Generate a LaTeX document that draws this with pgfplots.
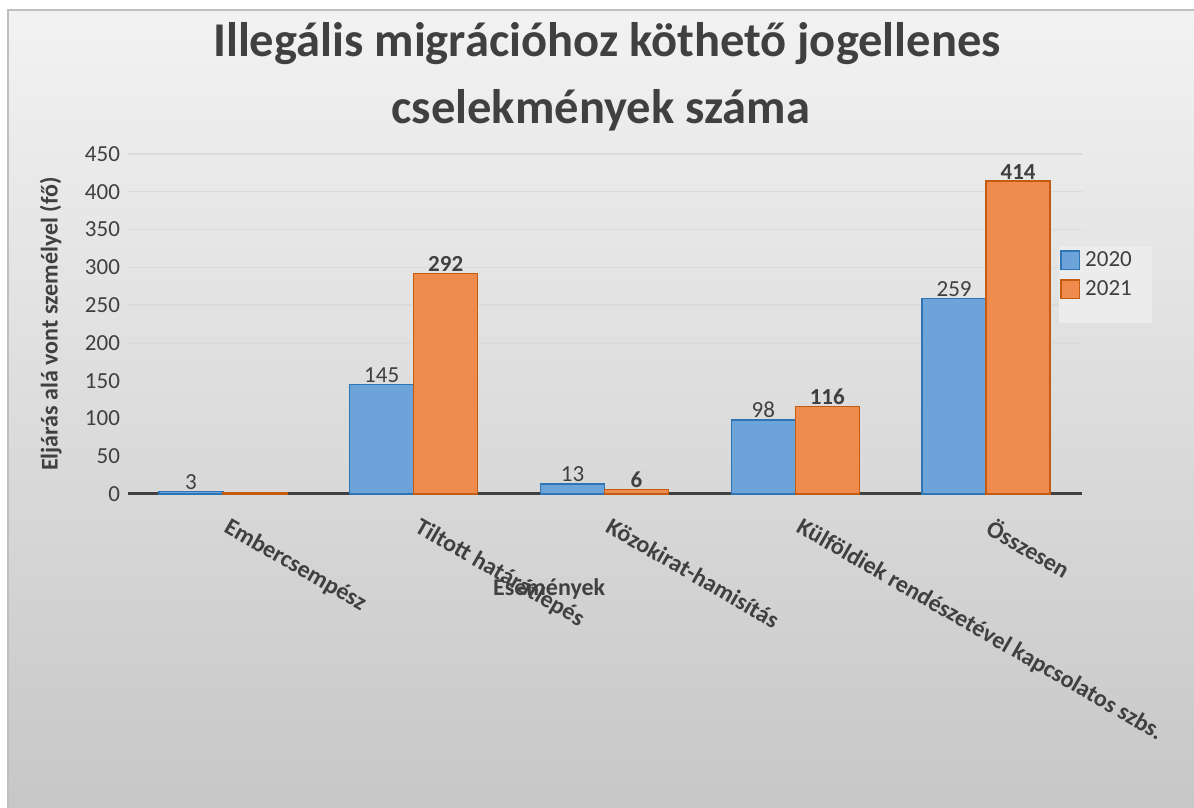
\documentclass[border=0pt]{standalone}
\usepackage{fontspec}
\setmainfont{Carlito}
\usepackage{pgfplots}
\pgfplotsset{compat=1.18}

\definecolor{txt}{RGB}{64,64,64}
\definecolor{bluefill}{RGB}{108,163,217}
\definecolor{blueedge}{RGB}{46,117,182}
\definecolor{orfill}{RGB}{238,139,77}
\definecolor{oredge}{RGB}{197,90,17}
\definecolor{legbg}{RGB}{236,236,236}

\newcommand{\fs}{\fontsize{23}{27}\selectfont}
\newcommand{\fb}{\fontsize{24}{28}\selectfont\bfseries}

\begin{document}
\begin{tikzpicture}[x=1pt,y=1pt]
\path[use as bounding box, fill=white] (0,0) rectangle (1194,808);
\shade[top color=black!5, bottom color=black!22] (8,0) rectangle (1194,798);
\draw[black!25, line width=1.5pt] (8,0) -- (8,798) -- (1194,798);

% title
\node[anchor=base, text=txt, font=\fontsize{48.5}{58}\selectfont\bfseries] at (607,751) {Illegális migrációhoz köthető jogellenes};
\node[anchor=base, text=txt, font=\fontsize{48.5}{58}\selectfont\bfseries] at (601,684) {cselekmények száma};

\begin{axis}[
    at={(127.5pt,314pt)}, anchor=south west,
    scale only axis, width=954pt, height=340pt,
    xmin=-0.5, xmax=4.5, ymin=0, ymax=450,
    clip=false,
    ytick={0,50,...,450},
    xtick={0,1,2,3,4},
    xticklabels={Embercsempész, Tiltott határátlépés, Közokirat-hamisítás, Külföldiek rendészetével kapcsolatos szbs., Összesen},
    xticklabel style={xshift=7pt, yshift=-18pt, rotate=-30, anchor=north west, font=\fb, text=txt},
    yticklabel style={font=\fs, text=txt, xshift=-4pt},
    /pgf/number format/assume math mode=true,
    axis x line=bottom, axis y line=left,
    x axis line style={-, draw=black!75, line width=3pt},
    y axis line style={draw=none},
    major tick length=0pt,
    ymajorgrids, grid style={black!14, line width=1.3pt},
    ylabel={Eljárás alá vont személyel (fő)},
    ylabel style={at={(axis description cs:-0.0805,0.5)}, anchor=center, font=\fb, text=txt},
    ybar=0pt, bar width=64pt,
    point meta=explicit symbolic,
    nodes near coords={\pgfplotspointmeta},
    legend style={at={(axis description cs:0.9775,0.7176)}, anchor=north west,
        fill=none, draw=none, font=\fs, text=txt,
        inner sep=0pt, row sep=9pt,
        nodes={inner sep=0pt},
        /tikz/every odd column/.append style={column sep=5pt}},
    legend cell align=left,
    legend image code/.code={\draw[#1, line width=1.5pt] (0.75pt,-9.25pt) rectangle (19.25pt,9.25pt);},
]
\fill[legbg] (rel axis cs:0.9764,0.5029) rectangle (rel axis cs:1.0739,0.7294);
\addplot[fill=bluefill, draw=blueedge, line width=1.5pt,
    every node near coord/.append style={font=\fs, text=txt, yshift=-2pt}]
    coordinates {(0,3)[3] (1,145)[145] (2,13)[13] (3,98)[98] (4,259)[259]};
\addplot[fill=orfill, draw=oredge, line width=1.5pt,
    every node near coord/.append style={font=\fs\bfseries, text=txt, yshift=-2pt}]
    coordinates {(0,2)[] (1,292)[292] (2,6)[6] (3,116)[116] (4,414)[414]};
\legend{\fs 2020,\fs 2021}
\node[font=\fb, text=txt] at (axis cs:1.71,-126) {Események};
\end{axis}
\end{tikzpicture}
\end{document}
